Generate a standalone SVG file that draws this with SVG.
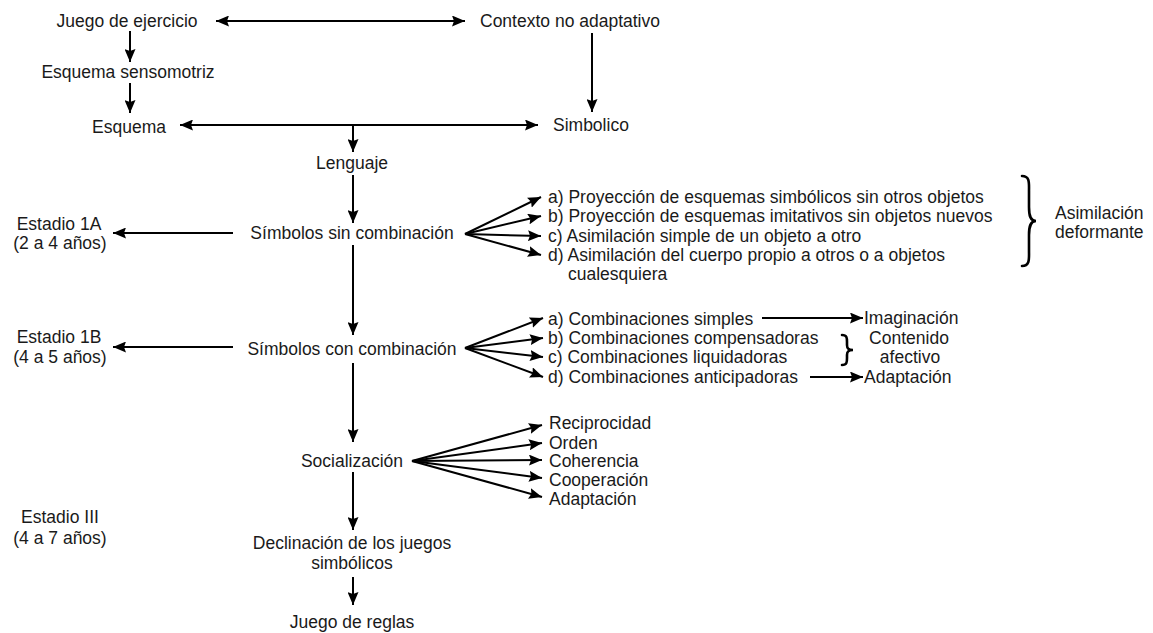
<svg xmlns="http://www.w3.org/2000/svg" width="1153" height="633" viewBox="0 0 1153 633">
<style>
text{font-family:"Liberation Sans",Arial,sans-serif;font-size:17.5px;fill:#1a1a1a}
.m{text-anchor:middle}
.c line{stroke:#000;stroke-width:2;fill:none}
.br{stroke:#000;fill:none;stroke-width:2.6;stroke-linecap:round}
</style>
<defs>
<marker id="ah" viewBox="0 0 13 11" refX="13" refY="5.5" markerWidth="13" markerHeight="11" markerUnits="userSpaceOnUse" orient="auto-start-reverse">
<path d="M0,0 L13,5.5 L0,11 L2,5.5 z" fill="#000"/>
</marker>
</defs>
<rect width="1153" height="633" fill="#fff"/>
<g class="c" id="connectors">
<line x1="216" y1="21" x2="465" y2="21" marker-start="url(#ah)" marker-end="url(#ah)"/>
<line x1="130" y1="31" x2="130" y2="62" marker-end="url(#ah)"/>
<line x1="130" y1="83" x2="130" y2="113" marker-end="url(#ah)"/>
<line x1="180" y1="125" x2="538" y2="125" marker-start="url(#ah)" marker-end="url(#ah)"/>
<line x1="592" y1="33" x2="592" y2="112" marker-end="url(#ah)"/>
<line x1="353" y1="125" x2="353" y2="152" marker-end="url(#ah)"/>
<line x1="353" y1="175" x2="353" y2="223" marker-end="url(#ah)"/>
<line x1="233" y1="233" x2="113" y2="233" marker-end="url(#ah)"/>
<line x1="465" y1="234" x2="541" y2="197" marker-end="url(#ah)"/>
<line x1="465" y1="234" x2="541" y2="216" marker-end="url(#ah)"/>
<line x1="465" y1="234" x2="541" y2="236" marker-end="url(#ah)"/>
<line x1="465" y1="234" x2="541" y2="255" marker-end="url(#ah)"/>
<line x1="353" y1="245" x2="353" y2="335" marker-end="url(#ah)"/>
<line x1="233" y1="347" x2="113" y2="347" marker-end="url(#ah)"/>
<line x1="465" y1="348" x2="543" y2="318" marker-end="url(#ah)"/>
<line x1="465" y1="348" x2="543" y2="338" marker-end="url(#ah)"/>
<line x1="465" y1="348" x2="543" y2="357" marker-end="url(#ah)"/>
<line x1="465" y1="348" x2="543" y2="377" marker-end="url(#ah)"/>
<line x1="762" y1="318" x2="863" y2="318" marker-end="url(#ah)"/>
<line x1="810" y1="377" x2="863" y2="377" marker-end="url(#ah)"/>
<line x1="353" y1="363" x2="353" y2="442" marker-end="url(#ah)"/>
<line x1="412" y1="461" x2="542" y2="425" marker-end="url(#ah)"/>
<line x1="412" y1="461" x2="542" y2="443" marker-end="url(#ah)"/>
<line x1="412" y1="461" x2="542" y2="460" marker-end="url(#ah)"/>
<line x1="412" y1="461" x2="542" y2="478" marker-end="url(#ah)"/>
<line x1="412" y1="461" x2="542" y2="497" marker-end="url(#ah)"/>
<line x1="353" y1="472" x2="353" y2="530" marker-end="url(#ah)"/>
<line x1="353" y1="577" x2="353" y2="605" marker-end="url(#ah)"/>
</g>
<g id="n-juego-ejercicio"><text class="m" x="127" y="27">Juego de ejercicio</text></g>
<g id="n-contexto"><text x="480" y="27">Contexto no adaptativo</text></g>
<g id="n-esquema-sensomotriz"><text class="m" x="128" y="78">Esquema sensomotriz</text></g>
<g id="n-esquema"><text class="m" x="129" y="133">Esquema</text></g>
<g id="n-simbolico"><text x="553" y="131">Simbolico</text></g>
<g id="n-lenguaje"><text class="m" x="352" y="169">Lenguaje</text></g>
<g id="n-sin-comb"><text class="m" x="352" y="239">Símbolos sin combinación</text></g>
<g id="n-estadio-1a"><text class="m" x="59" y="230">Estadio 1A</text><text class="m" x="60" y="249">(2 a 4 años)</text></g>
<g id="n-lista-sin">
<text x="548" y="203">a) Proyección de esquemas simbólicos sin otros objetos</text>
<text x="548" y="222">b) Proyección de esquemas imitativos sin objetos nuevos</text>
<text x="548" y="242">c) Asimilación simple de un objeto a otro</text>
<text x="548" y="261">d) Asimilación del cuerpo propio a otros o a objetos</text>
<text x="568" y="280">cualesquiera</text>
</g>
<g id="n-asimilacion-deformante">
<path class="br" d="M1022,176 C1030,176 1029,183 1029,191 L1029,207 C1029,215 1030,221 1036,221 C1030,221 1029,227 1029,235 L1029,251 C1029,259 1030,266 1022,266"/>
<text x="1055" y="219">Asimilación</text><text x="1055" y="238">deformante</text>
</g>
<g id="n-con-comb"><text class="m" x="352" y="355">Símbolos con combinación</text></g>
<g id="n-estadio-1b"><text class="m" x="59" y="343">Estadio 1B</text><text class="m" x="60" y="363">(4 a 5 años)</text></g>
<g id="n-lista-con">
<text x="548" y="325">a) Combinaciones simples</text>
<text x="548" y="344">b) Combinaciones compensadoras</text>
<text x="548" y="363">c) Combinaciones liquidadoras</text>
<text x="548" y="383">d) Combinaciones anticipadoras</text>
</g>
<g id="n-imaginacion"><text x="864" y="324">Imaginación</text></g>
<g id="n-contenido-afectivo">
<path class="br" d="M842,335 C847,335 847,338 847,342 L847,345 C847,348 848,350 853,350 C848,350 847,352 847,355 L847,358 C847,362 847,365 842,365"/>
<text class="m" x="909" y="344">Contenido</text><text class="m" x="910" y="363">afectivo</text>
</g>
<g id="n-adaptacion-1"><text x="864" y="383">Adaptación</text></g>
<g id="n-socializacion"><text class="m" x="352" y="467">Socialización</text></g>
<g id="n-lista-soc">
<text x="549" y="429">Reciprocidad</text>
<text x="549" y="449">Orden</text>
<text x="549" y="467">Coherencia</text>
<text x="549" y="486">Cooperación</text>
<text x="549" y="505">Adaptación</text>
</g>
<g id="n-estadio-3"><text class="m" x="60" y="523">Estadio III</text><text class="m" x="60" y="544">(4 a 7 años)</text></g>
<g id="n-declinacion"><text class="m" x="352" y="549">Declinación de los juegos</text><text class="m" x="352" y="569">simbólicos</text></g>
<g id="n-juego-reglas"><text class="m" x="352" y="628">Juego de reglas</text></g>
</svg>
